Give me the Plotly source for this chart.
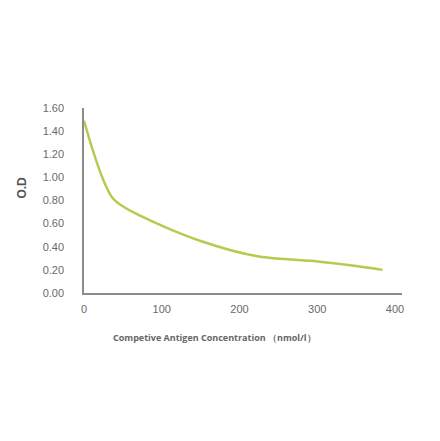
import plotly.graph_objects as go

concentration = [0, 37, 75, 150, 225, 300, 350, 384]
od_values = [1.49, 0.82, 0.66, 0.45, 0.315, 0.273, 0.234, 0.20]

x_ticks = [0, 100, 200, 300, 400]
y_ticks = [0.0, 0.2, 0.4, 0.6, 0.8, 1.0, 1.2, 1.4, 1.6]
y_tick_labels = [f"{v:.2f}" for v in y_ticks]

x_title = "Competive Antigen Concentration （nmol/l）"
y_title = "O.D"

fig = go.Figure()
fig.add_trace(go.Scatter(
    x=concentration, y=od_values, mode="lines",
    line=dict(color="#b3cc4f", width=2.5, shape="spline", smoothing=0.8),
    hoverinfo="skip", showlegend=False,
))

axis_font = dict(family="Liberation Sans, Arial, sans-serif", size=11, color="#6a6a6a")

fig.update_layout(
    width=440, height=441,
    margin=dict(l=76, r=46, t=100, b=156),
    paper_bgcolor="white", plot_bgcolor="white",
    xaxis=dict(range=[0, 409], tickvals=x_ticks, showgrid=False, zeroline=False,
               showline=True, linecolor="#8c8c8c", linewidth=1.5,
               ticks="", tickfont=axis_font, ticklabelstandoff=5),
    yaxis=dict(range=[0, 1.6], tickvals=y_ticks, ticktext=y_tick_labels,
               showgrid=False, zeroline=False,
               showline=True, linecolor="#8c8c8c", linewidth=1.5,
               ticks="", tickfont=axis_font, ticklabelstandoff=16),
    annotations=[
        dict(text=f"<b>{y_title}</b>", xref="paper", yref="paper", x=0, y=0.57,
             xshift=-71, textangle=-90, showarrow=False,
             font=dict(family="Liberation Sans, Arial, sans-serif", size=12, color="#555555")),
        dict(text=f"<b>{x_title}</b>", xref="paper", yref="paper", x=0.41, y=0,
             yshift=-53, showarrow=False,
             font=dict(family="Open Sans, sans-serif", size=9, color="#666666")),
    ],
)

fig.write_html("out.html")
